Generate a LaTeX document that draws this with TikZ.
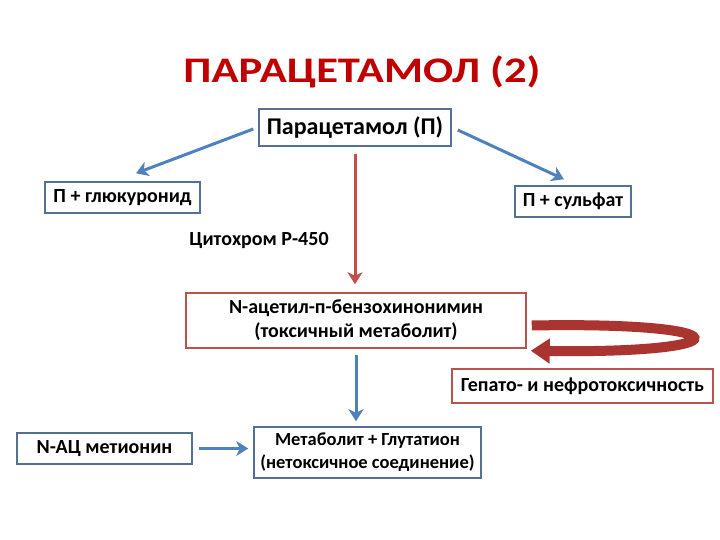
\documentclass[tikz,border=0pt]{standalone}
\usepackage{fontspec}
\setmainfont{Carlito}
\newfontfamily\widefont[FakeStretch=1.24]{Carlito}
\usetikzlibrary{arrows.meta}

\definecolor{titlered}{RGB}{192,0,0}
\definecolor{boxblue}{RGB}{84,112,148}
\definecolor{boxred}{RGB}{186,82,78}
\definecolor{arrblue}{RGB}{79,129,189}
\definecolor{arrred}{RGB}{192,80,77}
\definecolor{ribbonred}{RGB}{170,52,48}

\tikzset{
  bluebox/.style={draw=boxblue, line width=1.5pt, fill=white, align=center, inner sep=2pt},
  redbox/.style={draw=boxred, line width=1.5pt, fill=white, align=center, inner sep=2pt},
  bluearrow/.style={draw=arrblue, line width=3pt, -{Stealth[length=12pt,width=15pt,inset=3.5pt]}},
  redarrow/.style={draw=arrred, line width=3pt, -{Stealth[length=12pt,width=15pt,inset=3.5pt]}},
  boxfont/.style={font=\bfseries\fontsize{20}{24}\selectfont}
}

\begin{document}
\begin{tikzpicture}[x=1pt, y=-1pt]
    \useasboundingbox (0,0) rectangle (720,540);
    \node[text=titlered, font=\widefont\bfseries\fontsize{36}{40}\selectfont] (title) at (362,72) {ПАРАЦЕТАМОЛ (2)};

    \node[bluebox, font=\bfseries\fontsize{24}{28}\selectfont, minimum width=192pt, minimum height=37pt] (para) at (355,127.5) {Парацетамол (П)};
    \node[bluebox, boxfont, minimum width=155pt, minimum height=31pt] (gluc) at (122.5,197.5) {П + глюкуронид};
    \node[bluebox, boxfont, minimum width=116pt, minimum height=31pt] (sulf) at (573,201.5) {П + сульфат};
    \node[boxfont] (cyto) at (259,241) {Цитохром Р-450};
    \node[redbox, boxfont, minimum width=340pt, minimum height=55pt] (napqi) at (356,320.5)
        {N-ацетил-п-бензохинонимин\\(токсичный метаболит)};
    \node[redbox, boxfont, minimum width=261pt, minimum height=34pt] (hepato) at (582.5,386) {Гепато- и нефротоксичность};
    \node[bluebox, boxfont, minimum width=175pt, minimum height=31pt] (nac) at (104.5,448.5) {N-АЦ метионин};
    \node[bluebox, font=\bfseries\fontsize{18.5}{23}\selectfont, minimum width=227pt, minimum height=51pt] (gsh) at (367.5,452.5)
        {Метаболит + Глутатион\\(нетоксичное соединение)};

    % pathways
    \draw[bluearrow] ([xshift=-5pt,yshift=-1.5pt]para.west) -- ([xshift=13.5pt,yshift=8pt]gluc.north);
    \draw[bluearrow] ([xshift=6pt,yshift=-2.5pt]para.east) -- ([xshift=-9pt,yshift=6pt]sulf.north);
    \draw[redarrow] ([yshift=-7pt]para.south) -- ([yshift=8pt]para.south |- napqi.north);
    \draw[bluearrow] ([yshift=-6pt]napqi.south) -- ([yshift=5pt]napqi.south |- gsh.north);
    \draw[bluearrow] ([xshift=6pt]nac.east) -- ([xshift=-5pt]nac.east -| gsh.west);

    % toxic loop
    \draw[ribbonred, line width=10pt, -{Triangle[length=19pt,width=24pt]}]
        ([xshift=5pt,yshift=-5pt]napqi.east) .. controls +(214,-4) and +(215,3) .. ([xshift=4pt,yshift=-2pt]napqi.south east);
\end{tikzpicture}
\end{document}
